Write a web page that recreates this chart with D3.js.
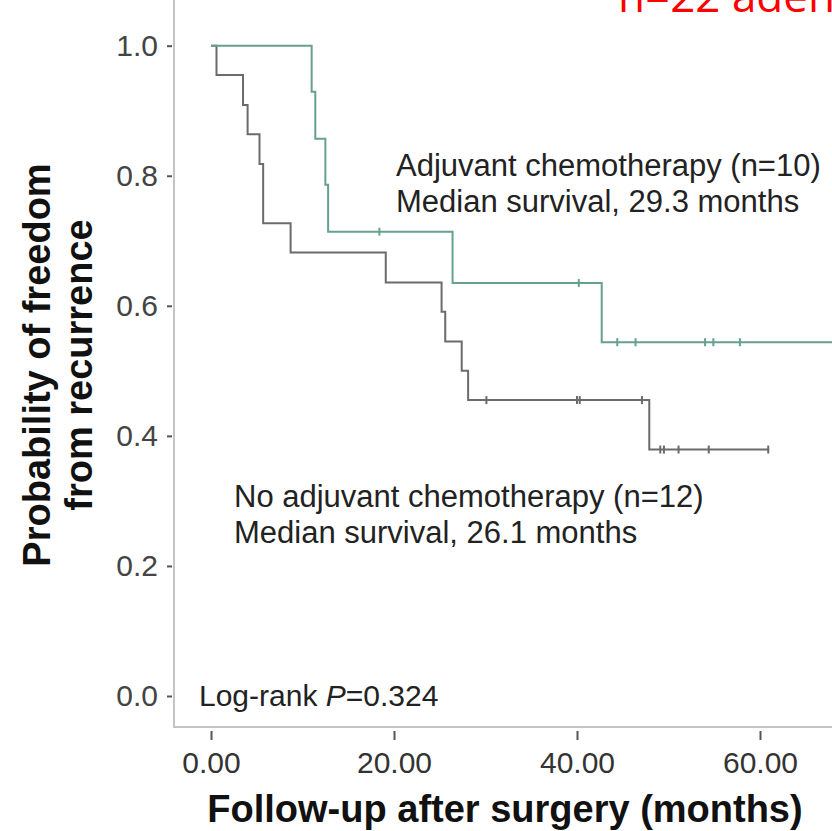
<!DOCTYPE html>
<html>
<head>
<meta charset="utf-8">
<script src="https://cdn.jsdelivr.net/npm/d3@7/dist/d3.min.js"></script>
<style>
  html, body { margin: 0; padding: 0; background: #ffffff; }
  svg { display: block; }
  text { font-family: "Liberation Sans", Arial, sans-serif; }
</style>
</head>
<body>
<svg id="chart" width="832" height="831"></svg>
<script>
// Kaplan–Meier steps: event times (months) and survival right after each event
const chemoTimes = [0, 11.0, 11.4, 12.5, 12.8, 26.4, 42.7];
const chemoSurv  = [1.0, 0.929, 0.857, 0.786, 0.714, 0.635, 0.544];
const chemoEnd = 70;
const chemoCensor = [18.4, 40.2, 44.4, 46.4, 54.0, 54.9, 57.8];

const noChemoTimes = [0, 0.6, 3.5, 4.0, 5.3, 5.7, 8.7, 19.1, 25.2, 25.6, 27.4, 28.1, 47.9];
const noChemoSurv  = [1.0, 0.955, 0.909, 0.864, 0.818, 0.727, 0.682, 0.636, 0.591, 0.545, 0.5, 0.455, 0.379];
const noChemoEnd = 61.0;
const noChemoCensor = [30.1, 40.0, 40.3, 47.1, 49.1, 49.5, 51.1, 54.4, 60.9];

const xTicks = [0, 20, 40, 60];
const yTicks = [0, 0.2, 0.4, 0.6, 0.8, 1.0];

const svg = d3.select("#chart");

const x = d3.scaleLinear().domain([0, 60]).range([211, 760]);
const y = d3.scaleLinear().domain([0, 1]).range([696, 45.7]);

const axisColor = "#c4c4c4";
const colChemo = "#66a08e";
const colNoChemo = "#6b6b6b";

// Axis lines
svg.append("line").attr("x1", 174).attr("x2", 174).attr("y1", 0).attr("y2", 728)
  .attr("stroke", axisColor).attr("stroke-width", 2);
svg.append("line").attr("x1", 173).attr("x2", 832).attr("y1", 727).attr("y2", 727)
  .attr("stroke", axisColor).attr("stroke-width", 2);

// Y axis ticks and labels
const gy = svg.append("g").attr("transform", "translate(172,0)")
  .call(d3.axisLeft(y).tickValues(yTicks).tickFormat(d3.format(".1f")).tickSize(5).tickPadding(9));
gy.select(".domain").remove();
gy.selectAll(".tick line").attr("stroke", "#555").attr("stroke-width", 2);
gy.selectAll(".tick text").attr("font-size", 30).attr("fill", "#444")
  .style("font-family", "'Liberation Sans', Arial, sans-serif");

// X axis ticks and labels
const gx = svg.append("g").attr("transform", "translate(0,731)")
  .call(d3.axisBottom(x).tickValues(xTicks).tickFormat(d3.format(".2f")).tickSize(9).tickPadding(12));
gx.select(".domain").remove();
gx.selectAll(".tick line").attr("stroke", "#555").attr("stroke-width", 2);
gx.selectAll(".tick text").attr("font-size", 30).attr("fill", "#333")
  .style("font-family", "'Liberation Sans', Arial, sans-serif");

// Survival curves
function stepPoints(times, surv, end) {
  const pts = times.map((t, i) => [t, surv[i]]);
  pts.push([end, surv[surv.length - 1]]);
  return pts;
}
function survAt(times, surv, t) {
  const i = d3.bisectRight(times, t) - 1;
  return surv[Math.max(0, i)];
}
const line = d3.line().x(d => x(d[0])).y(d => y(d[1])).curve(d3.curveStepAfter);

function drawCurve(times, surv, end, censor, color) {
  svg.append("path").datum(stepPoints(times, surv, end))
    .attr("fill", "none").attr("stroke", color).attr("stroke-width", 2)
    .attr("d", line);
  svg.append("g").selectAll("line").data(censor).join("line")
    .attr("x1", d => x(d)).attr("x2", d => x(d))
    .attr("y1", d => y(survAt(times, surv, d)) - 4)
    .attr("y2", d => y(survAt(times, surv, d)) + 4)
    .attr("stroke", color).attr("stroke-width", 2);
}
drawCurve(noChemoTimes, noChemoSurv, noChemoEnd, noChemoCensor, colNoChemo);
drawCurve(chemoTimes, chemoSurv, chemoEnd, chemoCensor, colChemo);

// Annotations
const ann = svg.append("g").attr("fill", "#222").attr("font-size", 31);
ann.append("text").attr("x", 396).attr("y", 176).text("Adjuvant chemotherapy (n=10)");
ann.append("text").attr("x", 396).attr("y", 212).text("Median survival, 29.3 months");
ann.append("text").attr("x", 234).attr("y", 507).text("No adjuvant chemotherapy (n=12)");
ann.append("text").attr("x", 234).attr("y", 543).text("Median survival, 26.1 months");
const lr = ann.append("text").attr("x", 199).attr("y", 706).attr("font-size", 30);
lr.append("tspan").text("Log-rank ");
lr.append("tspan").attr("font-style", "italic").text("P");
lr.append("tspan").text("=0.324");

// Axis titles
svg.append("text").attr("x", 505).attr("y", 822).attr("text-anchor", "middle")
  .attr("font-size", 38).attr("font-weight", "bold").attr("fill", "#111")
  .text("Follow-up after surgery (months)");
const yt = svg.append("text").attr("transform", "translate(0,365) rotate(-90)")
  .attr("text-anchor", "middle").attr("font-size", 38).attr("font-weight", "bold").attr("fill", "#111");
yt.append("tspan").attr("x", 0).attr("y", 50).text("Probability of freedom");
yt.append("tspan").attr("x", 0).attr("y", 92).text("from recurrence");

// Header note (red)
svg.append("text").attr("x", 618).attr("y", 12).attr("font-size", 44).attr("fill", "#ff0000")
  .style("font-family", "'Open Sans', sans-serif").text("n=22 adenocarcinoma");
</script>
</body>
</html>
